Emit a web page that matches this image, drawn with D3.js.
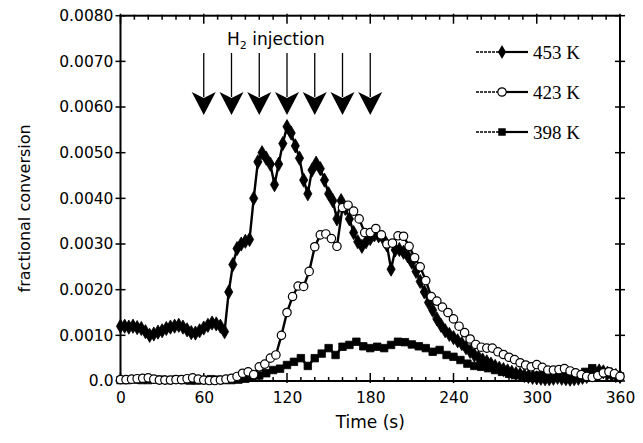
<!DOCTYPE html>
<html>
<head>
<meta charset="utf-8">
<script src="https://cdn.jsdelivr.net/npm/d3@7"></script>
<style>
  html, body { margin: 0; padding: 0; background: #fff; }
  svg { display: block; }
</style>
</head>
<body>
<div id="chart"></div>
<script>
// values are fractional conversion in units of 1e-3
const t453 = d3.range(0, 361, 3);
const v453 = [
  1.20, 1.20, 1.18, 1.20, 1.17, 1.15, 1.08, 1.00, 1.03, 1.07,
  1.10, 1.15, 1.18, 1.20, 1.22, 1.18, 1.12, 1.06, 1.05, 1.10,
  1.16, 1.22, 1.27, 1.25, 1.20, 1.08, 1.95, 2.55, 2.90, 3.00,
  3.06, 3.10, 4.00, 4.80, 5.00, 4.88, 4.75, 4.30, 4.75, 5.20,
  5.57, 5.43, 5.15, 4.88, 4.40, 4.10, 4.62, 4.77, 4.65, 4.40,
  4.10, 3.95, 3.55, 3.95, 3.78, 3.55, 3.25, 3.05, 2.95, 3.05,
  3.12, 3.20, 3.18, 3.14, 2.98, 2.45, 2.87, 2.88, 2.82, 2.74,
  2.60, 2.40, 2.18, 1.95, 1.72, 1.55, 1.36, 1.22, 1.10, 1.02,
  0.95, 0.88, 0.82, 0.73, 0.65, 0.57, 0.52, 0.46, 0.42, 0.37,
  0.32, 0.28, 0.25, 0.22, 0.19, 0.16, 0.14, 0.12, 0.10, 0.08,
  0.07, 0.06, 0.05, 0.05, 0.06, 0.08, 0.06, 0.05, 0.04, 0.05,
  0.06, 0.08, 0.10, 0.14, 0.18, 0.22, 0.20, 0.17, 0.14, 0.12,
  0.10
];

const t423 = d3.range(0, 361, 4);
const v423 = [
  0.03, 0.03, 0.04, 0.05, 0.06, 0.07, 0.04, 0.02, 0.02, 0.02,
  0.03, 0.03, 0.05, 0.07, 0.04, 0.02, 0.01, 0.01, 0.02, 0.04,
  0.06, 0.10, 0.17, 0.20, 0.14, 0.31, 0.37, 0.50, 0.57, 1.00,
  1.50, 1.85, 2.08, 2.07, 2.40, 2.94, 3.20, 3.22, 3.12, 2.95,
  3.80, 3.85, 3.72, 3.55, 3.25, 3.25, 3.34, 3.20, 3.00, 3.02,
  3.18, 3.17, 2.95, 2.70, 2.50, 2.20, 1.85, 1.75, 1.62, 1.50,
  1.36, 1.20, 1.06, 0.92, 0.80, 0.74, 0.72, 0.72, 0.64, 0.58,
  0.52, 0.47, 0.40, 0.35, 0.31, 0.36, 0.30, 0.24, 0.24, 0.25,
  0.27, 0.22, 0.18, 0.14, 0.10, 0.08, 0.12, 0.18, 0.20, 0.16,
  0.10
];

const t398 = d3.range(0, 361, 5);
const v398 = [
  0.02, 0.02, 0.03, 0.02, 0.02, 0.03, 0.03, 0.02, 0.03, 0.02,
  0.01, 0.01, 0.02, 0.04, 0.03, 0.02, 0.02, 0.03, 0.05, 0.08,
  0.12, 0.17, 0.24, 0.27, 0.35, 0.42, 0.50, 0.33, 0.50, 0.60,
  0.72, 0.57, 0.75, 0.79, 0.86, 0.76, 0.72, 0.75, 0.72, 0.79,
  0.86, 0.85, 0.80, 0.76, 0.72, 0.64, 0.68, 0.57, 0.53, 0.46,
  0.38, 0.33, 0.31, 0.28, 0.24, 0.20, 0.16, 0.13, 0.12, 0.10,
  0.12, 0.14, 0.18, 0.16, 0.14, 0.12, 0.14, 0.20, 0.28, 0.22,
  0.18, 0.15, 0.10
];

const xTicks = [0, 60, 120, 180, 240, 300, 360];
const yTicks = [0, 1, 2, 3, 4, 5, 6, 7, 8];
const yTickLabels = ["0.0", "0.0010", "0.0020", "0.0030", "0.0040", "0.0050", "0.0060", "0.0070", "0.0080"];
const injections = [60, 80, 100, 120, 140, 160, 180];
const seriesNames = ["453 K", "423 K", "398 K"];

const W = 643, H = 443;
const svg = d3.select("#chart").append("svg").attr("width", W).attr("height", H);

const x = d3.scaleLinear().domain([0, 360]).range([120.5, 620]);
const y = d3.scaleLinear().domain([0, 8]).range([381, 15.7]);

const sans = "'DejaVu Sans', sans-serif";

// frame
svg.append("rect")
  .attr("x", x(0)).attr("y", y(8))
  .attr("width", x(360) - x(0)).attr("height", y(0) - y(8))
  .attr("fill", "none").attr("stroke", "#000").attr("stroke-width", 2);

// axes
const axB = svg.append("g").attr("transform", `translate(0,${y(0)})`)
  .call(d3.axisBottom(x).tickValues(xTicks).tickSize(0).tickPadding(11));
const axL = svg.append("g").attr("transform", `translate(${x(0)},0)`)
  .call(d3.axisLeft(y).tickValues(yTicks).tickFormat((d, i) => yTickLabels[i]).tickSize(0).tickPadding(7));
[axB, axL].forEach(a => {
  a.select(".domain").remove();
  a.selectAll("text").attr("font-family", sans).attr("font-size", 15.5).attr("fill", "#000");
});

// tick marks
const tk = svg.append("g").attr("stroke", "#000").attr("stroke-width", 1.5);
const minorX = d3.range(0, 361, 10).filter(d => d % 60 !== 0);
minorX.forEach(d => {
  tk.append("line").attr("x1", x(d)).attr("x2", x(d)).attr("y1", y(0) + 1).attr("y2", y(0) - 4);
  tk.append("line").attr("x1", x(d)).attr("x2", x(d)).attr("y1", y(8) - 1).attr("y2", y(8) + 4);
});
xTicks.forEach(d => {
  tk.append("line").attr("x1", x(d)).attr("x2", x(d)).attr("y1", y(0) + 2).attr("y2", y(0) - 8);
  tk.append("line").attr("x1", x(d)).attr("x2", x(d)).attr("y1", y(8) - 2).attr("y2", y(8) + 8);
});
yTicks.forEach(d => {
  tk.append("line").attr("x1", x(0) - 5).attr("x2", x(0) + 5).attr("y1", y(d)).attr("y2", y(d));
  tk.append("line").attr("x1", x(360) - 5).attr("x2", x(360) + 5).attr("y1", y(d)).attr("y2", y(d));
});

// axis titles
svg.append("text")
  .attr("x", (x(0) + x(360)) / 2).attr("y", 428)
  .attr("text-anchor", "middle").attr("font-family", sans).attr("font-size", 17)
  .text("Time (s)");
svg.append("text")
  .attr("transform", `translate(30,${y(4) + 10}) rotate(-90)`)
  .attr("text-anchor", "middle").attr("font-family", sans).attr("font-size", 16)
  .text("fractional conversion");

// injection arrows
const arr = svg.append("g");
injections.forEach(d => {
  const cx = x(d);
  arr.append("line").attr("x1", cx).attr("x2", cx).attr("y1", 53).attr("y2", 97)
    .attr("stroke", "#000").attr("stroke-width", 1.3);
  arr.append("path")
    .attr("d", `M${cx - 12},92 L${cx},98 L${cx + 12},92 L${cx},115 Z`)
    .attr("fill", "#000");
});
const lab = svg.append("text")
  .attr("x", 227).attr("y", 45)
  .attr("font-family", sans).attr("font-size", 17);
lab.append("tspan").text("H");
lab.append("tspan").attr("font-size", 11).attr("dy", 4).text("2");
lab.append("tspan").attr("dy", -4).text(" injection");

// series
const line = d3.line().x(d => x(d[0])).y(d => y(d[1]));
const diamond = d3.symbol().type(d3.symbolDiamond).size(58);
const square = d3.symbol().type(d3.symbolSquare).size(56);

function drawSeries(ts, vs, kind) {
  const pts = ts.map((t, i) => [t, vs[i]]);
  const g = svg.append("g");
  g.append("path").datum(pts).attr("d", line)
    .attr("fill", "none").attr("stroke", "#000").attr("stroke-width", 2.4)
    .attr("stroke-linejoin", "round");
  if (kind === "circle") {
    g.selectAll("circle").data(pts).join("circle")
      .attr("cx", d => x(d[0])).attr("cy", d => y(d[1])).attr("r", 4.2)
      .attr("fill", "#fff").attr("stroke", "#000").attr("stroke-width", 1.2);
  } else {
    g.selectAll("path.m").data(pts).join("path").attr("class", "m")
      .attr("transform", d => `translate(${x(d[0])},${y(d[1])})`)
      .attr("d", kind === "diamond" ? diamond : square)
      .attr("fill", "#000").attr("stroke", "#000").attr("stroke-width", 0.8);
  }
}
drawSeries(t453, v453, "diamond");
drawSeries(t398, v398, "square");
drawSeries(t423, v423, "circle");

// legend
const kinds = ["diamond", "circle", "square"];
const legY = [52, 92, 132];
seriesNames.forEach((name, i) => {
  const g = svg.append("g").attr("transform", `translate(0,${legY[i]})`);
  g.append("line").attr("x1", 476).attr("x2", 500).attr("y1", 0).attr("y2", 0)
    .attr("stroke", "#000").attr("stroke-width", 1.4).attr("stroke-dasharray", "3,1");
  g.append("line").attr("x1", 502).attr("x2", 528).attr("y1", 0).attr("y2", 0)
    .attr("stroke", "#000").attr("stroke-width", 2.2);
  if (kinds[i] === "circle") {
    g.append("circle").attr("cx", 502).attr("cy", 0).attr("r", 4.2)
      .attr("fill", "#fff").attr("stroke", "#000").attr("stroke-width", 1.2);
  } else {
    g.append("path").attr("transform", "translate(502,0)")
      .attr("d", kinds[i] === "diamond" ? diamond : square).attr("fill", "#000");
  }
  g.append("text").attr("x", 533).attr("y", 6.5)
    .attr("font-family", "'Liberation Serif', serif").attr("font-size", 19)
    .text(name);
});
</script>
</body>
</html>
